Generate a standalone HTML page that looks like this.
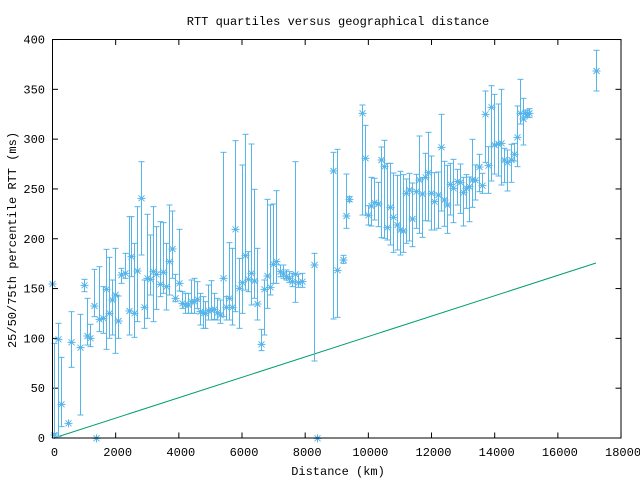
<!DOCTYPE html>
<html><head><meta charset="utf-8"><style>
body{margin:0;background:#fff}
svg text{font-family:"Liberation Mono",monospace;font-size:12px;fill:#000}
</style></head><body>
<svg id="s" width="640" height="480" xmlns="http://www.w3.org/2000/svg">
<rect width="640" height="480" fill="#fff"/>
<text x="338" y="25" text-anchor="middle">RTT quartiles versus geographical distance</text>
<text x="338" y="475" text-anchor="middle">Distance (km)</text>
<text transform="translate(16,240) rotate(-90)" text-anchor="middle">25/50/75th percentile RTT (ms)</text>
<g id="ax"></g>
<polyline points="54,438 596,263" fill="none" stroke="#009e73" stroke-width="1"/>
<g id="d" stroke="#56b4e9" stroke-width="1" fill="none"></g>
<rect x="52.5" y="39.5" width="568.5" height="398.5" fill="none" stroke="#000" stroke-width="1"/>
</svg>
<script>
var ns="http://www.w3.org/2000/svg";
function el(p,t,a,tx){var e=document.createElementNS(ns,t);for(var k in a)e.setAttribute(k,a[k]);if(tx!=null)e.textContent=tx;p.appendChild(e);return e;}
var ax=document.getElementById('ax');
for(var i=0;i<=8;i++){var y=438-i*49.81;
el(ax,'line',{x1:52.5,y1:y,x2:58,y2:y,stroke:'#000'});
el(ax,'line',{x1:621,y1:y,x2:615.5,y2:y,stroke:'#000'});
el(ax,'text',{x:45,y:y+4,'text-anchor':'end'},String(i*50));}
for(var i=0;i<=9;i++){var x=52.5+i*63.17;
el(ax,'line',{x1:x,y1:438,x2:x,y2:432.5,stroke:'#000'});
el(ax,'line',{x1:x,y1:39.5,x2:x,y2:45,stroke:'#000'});
el(ax,'text',{x:x+2,y:456,'text-anchor':'middle'},String(i*2000));}
var L=[[157,852],[163,1305,1300,1030],[175,1018,1310,970],[184,1213,1280,1072],[205,1270],[214,1027,1102,935],[240,1043,1245,943],[253,856,875,838],[262,1008,1035,895],[271,1015,1040,973],[281,918,950,808],[289,1315],[298,958,995,800],[310,955,1000,860],[319,868,1048,748],[328,940,1015,772],[337,900,1005,840],[346,885,1060,745],[355,963,1015,888],[364,825,850,805],[375,820,835,760],[386,933,1005,650],[394,770,830,650],[403,940,1012,730],[412,813,965,620],[424,595,765,485],[432,922,985,840],[442,835,955,643],[451,838,885,705],[460,815,965,620],[469,823,928,680],[479,853,890,665],[489,817,880,668],[498,860,930,730],[508,785,885,615],[517,747,835,633],[526,895,905,823],[536,850,873,688],[545,910,925,875],[554,915,940,880],[563,915,940,880],[572,905,940,840],[581,905,940,835],[591,898,925,845],[600,935,975,880],[609,940,985,890],[616,940,985,905],[625,932,960,855],[632,930,960,842],[641,928,958,880],[650,938,960,895],[660,945,970,900],[669,835,950,457],[678,922,960,890],[687,895,960,728],[696,922,975,745],[706,688,935,422],[716,865,985,775],[727,848,940,495],[736,767,870,403],[745,838,875,755],[754,820,915,432],[763,843,895,568],[772,912,960,745],[784,1033,1052,988],[793,868,1005,840],[802,828,925,598],[811,862,885,615],[820,793,850,612],[829,785,850,572],[840,815,830,795],[849,822,835,795],[858,830,840,810],[867,835,848,815],[876,845,860,820],[885,823,907,485],[894,848,862,822],[906,845,862,820],[942,795,1083,760],[952,1315]];
var R=[[40,513,957,457],[51,811,952,448],[69,780,790,766],[78,648,685,522],[88,598,605,590],[126,340,645,315],[136,475,645,376],[145,646,675,617],[154,618,678,532],[163,608,660,535],[173,612,680,547],[183,480,713,441],[192,500,715,421],[202,683,720,490],[211,622,735,490],[220,652,757,519],[230,675,750,526],[239,690,765,514],[248,693,757,524],[257,580,730,537],[267,570,723,520],[276,657,740,549],[287,575,685,523],[297,540,700,408],[306,582,712,533],[315,532,662,460],[325,518,663,397],[333,580,690,468],[342,605,690,518],[354,585,685,516],[364,442,633,343],[371,600,679,484],[381,615,700,496],[390,553,645,490],[399,565,668,478],[410,545,615,508],[420,547,640,492],[429,578,678,532],[438,565,625,524],[448,560,665,531],[457,540,622,418],[466,541,600,495],[477,501,575,463],[486,557,580,520],[495,343,487,273],[505,497,580,440],[514,322,543,257],[523,435,522,283],[533,432,528,312],[544,430,555,268],[552,480,548,445],[561,488,573,450],[572,480,547,433],[582,463,483,430],[592,412,500,318],[601,340,372,238],[610,357,435,295],[615,340,350,330],[621,343,352,330],[627,340,352,326],[828,213,273,151]];
var d=document.getElementById('d');
function draw(p,off){var x=Math.round(off+p[0]/3)+0.5,y=p[1]/3;
if(p.length>2){var lo=Math.min(p[2]/3,438),hi=p[3]/3;
el(d,'line',{x1:x,y1:lo,x2:x,y2:hi});
el(d,'line',{x1:x-3,y1:lo,x2:x+3,y2:lo});
el(d,'line',{x1:x-3,y1:hi,x2:x+3,y2:hi});}
el(d,'path',{d:'M'+(x-4)+' '+y+'h8M'+x+' '+(y-4)+'v8M'+(x-3)+' '+(y-3)+'l6 6M'+(x-3)+' '+(y+3)+'l6 -6'});}
L.forEach(function(p){draw(p,0)});R.forEach(function(p){draw(p,320)});
</script>
</body></html>
